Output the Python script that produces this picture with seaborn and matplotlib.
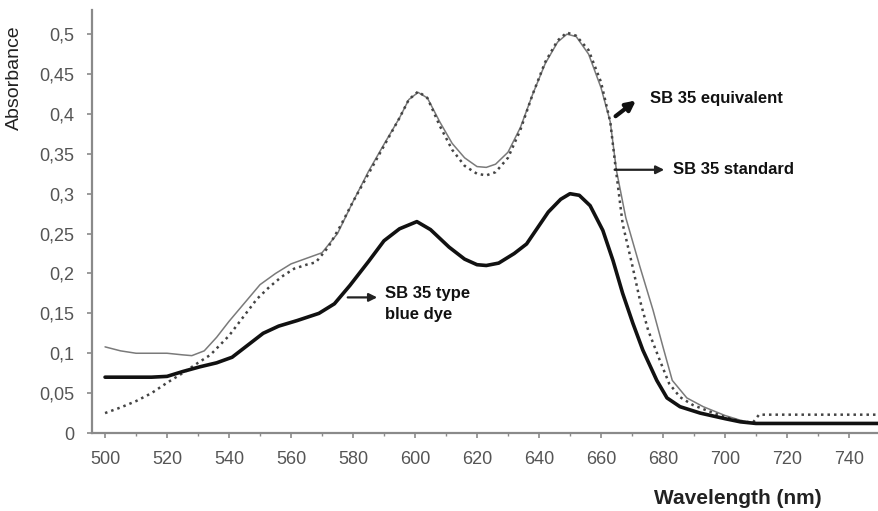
#UV-Vis absorbance spectra of SB 35 dyes

import numpy as np
import pandas as pd
import matplotlib
matplotlib.use("Agg")
import matplotlib.pyplot as plt
import seaborn as sns
from matplotlib.ticker import MultipleLocator, FuncFormatter

#Data
wl_standard = [500, 505, 510, 515, 520, 525, 528, 532, 536, 540, 545, 550, 555, 560, 565, 570,
               575, 580, 585, 590, 595, 598, 601, 604, 608, 612, 616, 620, 623, 626, 630, 634,
               638, 642, 646, 649, 652, 656, 660, 663, 665, 668, 672.6, 676.8, 680, 683, 687.7,
               693, 700, 705, 710, 750]
abs_standard = [0.108, 0.103, 0.10, 0.10, 0.10, 0.098, 0.097, 0.103, 0.12, 0.14, 0.163, 0.186, 0.20, 0.212, 0.219, 0.226,
                0.25, 0.29, 0.328, 0.362, 0.395, 0.418, 0.427, 0.42, 0.39, 0.363, 0.345, 0.334, 0.333, 0.337, 0.352, 0.383,
                0.425, 0.463, 0.49, 0.50, 0.497, 0.475, 0.433, 0.39, 0.329, 0.27, 0.208, 0.154, 0.108, 0.066, 0.044,
                0.033, 0.022, 0.016, 0.012, 0.012]

wl_equiv = [500, 505, 510, 515, 520, 525, 530, 534, 540, 544.5, 549, 553, 557, 561, 565, 568,
            572, 576, 580, 585, 590, 595, 598, 601, 604, 608, 612, 616, 620, 623, 626, 630,
            634, 638, 642, 646, 649, 652, 656, 660, 663, 664.5, 667, 670, 672.6, 675.2, 679, 682,
            685.5, 689.7, 695, 700, 705, 709, 711, 750]
abs_equiv = [0.025, 0.032, 0.04, 0.05, 0.063, 0.075, 0.088, 0.098, 0.122, 0.145, 0.168, 0.183, 0.196, 0.206, 0.211, 0.214,
             0.233, 0.26, 0.29, 0.325, 0.36, 0.395, 0.418, 0.428, 0.42, 0.385, 0.355, 0.335, 0.325, 0.323, 0.327, 0.345,
             0.38, 0.425, 0.465, 0.492, 0.502, 0.498, 0.48, 0.44, 0.39, 0.34, 0.262, 0.212, 0.166, 0.129, 0.091, 0.062,
             0.045, 0.035, 0.027, 0.02, 0.015, 0.013, 0.023, 0.023]

wl_blue = [500, 505, 510, 515, 520, 525, 530.6, 536, 541, 546, 551, 556, 562, 569, 574, 579,
           585, 590, 595, 600.6, 605, 611, 616, 620, 623, 627, 632, 636, 639.5, 643, 647, 650,
           653, 656.5, 660.6, 663.9, 667, 670.3, 673.5, 678, 681.3, 685.5, 692, 700, 705, 710, 750]
abs_blue = [0.07, 0.07, 0.07, 0.07, 0.071, 0.077, 0.083, 0.088, 0.095, 0.11, 0.125, 0.134, 0.141, 0.15, 0.162, 0.185,
            0.215, 0.241, 0.256, 0.265, 0.255, 0.233, 0.218, 0.211, 0.21, 0.213, 0.225, 0.237, 0.257, 0.277, 0.293, 0.30,
            0.298, 0.285, 0.254, 0.216, 0.175, 0.1375, 0.104, 0.066, 0.044, 0.033, 0.025, 0.018, 0.014, 0.012, 0.012]

sns.set_style("white")
plt.rcParams["font.family"] = ["Liberation Sans", "DejaVu Sans"]

fig = plt.figure(figsize=(8.79, 5.11), dpi=100)
ax = fig.add_axes([0.1047, 0.1526, 0.8953, 0.8274])

sns.lineplot(x=wl_standard, y=abs_standard, ax=ax, color="#7a7a7a", linewidth=1.1,
             solid_joinstyle="round")
sns.lineplot(x=wl_equiv, y=abs_equiv, ax=ax, color="#444444", linewidth=1.8, linestyle=(0, (1, 1.6)))
sns.lineplot(x=wl_blue, y=abs_blue, ax=ax, color="#111111", linewidth=2.6, solid_joinstyle="round")

ax.set_xlim(495.8, 749.7)
ax.set_ylim(0, 0.53)
ax.xaxis.set_major_locator(MultipleLocator(20))
ax.xaxis.set_minor_locator(MultipleLocator(10))
ax.yaxis.set_major_locator(MultipleLocator(0.05))
ax.yaxis.set_major_formatter(FuncFormatter(lambda v, p: ("%g" % round(v, 2)).replace(".", ",")))

for s in ["top", "right"]:
    ax.spines[s].set_visible(False)
for s in ["left", "bottom"]:
    ax.spines[s].set_color("#8a8a8a")
    ax.spines[s].set_linewidth(1.6)

ax.tick_params(axis="both", which="major", colors="#8a8a8a", labelcolor="#555555",
               labelsize=13, length=3.6, width=1.2, direction="out", bottom=True, left=True)
ax.tick_params(axis="y", which="major", pad=9)
ax.tick_params(axis="x", which="minor", colors="#8a8a8a", length=2, width=1, bottom=True)
ax.tick_params(axis="x", which="major", pad=9)

ax.set_xlabel("Wavelength (nm)", fontsize=15, fontweight="bold", color="#222222")
ax.xaxis.set_label_coords(0.821, -0.132)
ax.set_ylabel("Absorbance", fontsize=14, color="#222222")
ax.yaxis.set_label_coords(-0.088, 0.84)

#Annotations
arrow = dict(arrowstyle="-|>", color="#222222", lw=1.6, mutation_scale=12)
ax.annotate("", xy=(672, 0.419), xytext=(664, 0.395),
            arrowprops=dict(arrowstyle="-|>", color="#111111", lw=3, mutation_scale=14))
ax.text(675.8, 0.419, "SB 35 equivalent", fontsize=12, fontweight="bold", color="#111111", va="center")
ax.annotate("", xy=(681.3, 0.33), xytext=(663.5, 0.33), arrowprops=arrow)
ax.text(683.2, 0.33, "SB 35 standard", fontsize=12, fontweight="bold", color="#111111", va="center")
ax.annotate("", xy=(588.7, 0.17), xytext=(577.4, 0.17), arrowprops=arrow)
ax.text(590.3, 0.184, "SB 35 type\nblue dye", fontsize=12, fontweight="bold", color="#111111",
        va="top", linespacing=1.5)

plt.savefig("out.png", dpi=100)
